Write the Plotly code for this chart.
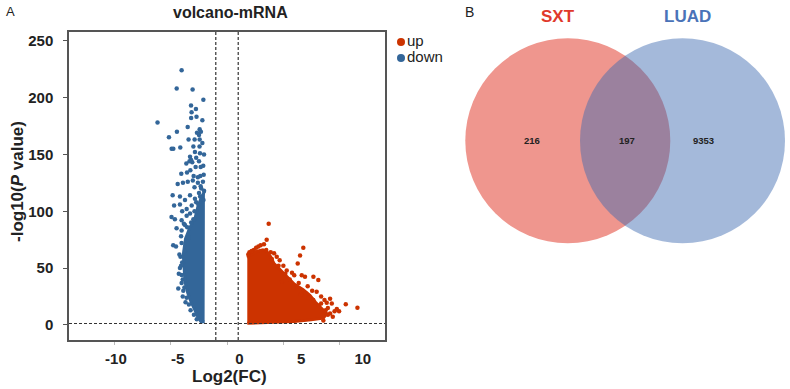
import plotly.graph_objects as go

FONT = "Liberation Sans, Arial, sans-serif"
RED = "#CC3300"
BLUE = "#336699"

# ---------------- data ----------------
x_ticks = [-10, -5, 0, 5, 10]
x_tick_labels = ["-10", "-5", "0", "5", "10"]
y_ticks = [0, 50, 100, 150, 200, 250]
y_tick_labels = ["0", "50", "100", "150", "200", "250"]

fc_threshold = 1.0        # |log2FC| cut-off lines
p_threshold = 1.3         # -log10(0.05)

legend_names = ["up", "down"]

# dense cores (outline of the solid point clouds)
down_core_x = [-1.97, -2.3, -2.6, -2.9, -3.3, -3.7, -3.9, -3.85, -3.75, -3.5, -3.2, -2.9, -2.6, -2.3, -2.0]
down_core_y = [118, 112, 104, 92, 86, 76, 62, 50, 38, 28, 20, 14, 7, 2.5, 3]

up_core_x = [1.81, 4.0, 6.0, 7.5, 8.6, 8.9, 8.5, 7.9, 7.4, 6.8, 6.0, 5.4, 4.8, 4.2, 3.9, 3.6, 3.2, 2.7, 2.2, 1.81]
up_core_y = [1.5, 2.0, 3.0, 4.5, 6.0, 10, 14, 20, 26, 31, 36, 42, 48, 54, 60, 64, 66, 65, 62, 59]

# individual (sparser) points
down_x = [-4.05, -4.49, -3.07, -2.11, -3.21, -2.77, -3.16, -2.72, -3.2, -6.2, -3.51, -4.47, -2.44, -2.68,
          -2.33, -5.18, -2.89, -3.43, -2.44, -2.5, -4.94, -4.79, -4.17, -3.0, -2.86, -2.41, -3.3, -3.2,
          -3.1, -3.35, -2.75, -2.5, -2.35, -2.8, -3.63, -4.08, -3.27, -3.57, -2.98, -2.38, -2.08, -4.4,
          -3.93, -3.5, -3.05, -2.6, -2.15, -4.85, -4.2, -3.75, -3.3, -2.86, -2.4, -2.1, -4.72, -4.2,
          -3.6, -3.15, -2.55, -4.95, -4.65, -4.05, -3.6, -3.0, -4.5, -4.05, -3.75, -4.8, -4.55, -4.05,
          -3.75, -4.35, -4.05, -4.3, -4.2, -3.95, -3.7, -2.2, -2.05, -2.3, -2.12, -2.6, -2.9, -4.0,
          -3.3, -2.2, -2.45, -2.05, -3.85, -3.45,
          -4.1, -4.15, -4.0, -4.05, -3.95, -3.9, -3.8, -3.6, -3.4, -3.25, -2.95, -2.7, -4.25, -4.1,
          -3.55, -3.2, -2.9, -2.75, -2.5, -2.35]
down_y = [224, 208, 207, 198, 193, 190, 187, 183, 182, 178, 174, 170, 172, 169,
          170, 165, 163, 163, 163, 167, 155, 155, 156, 157, 152, 151, 148, 145,
          143, 144, 147, 144, 139, 139, 142, 133, 136, 134, 131, 131, 132, 124,
          125, 126, 127, 125, 126, 114, 113, 110, 114, 111, 113, 110, 105, 106,
          102, 105, 106, 95, 93, 92, 96, 93, 85, 83, 88, 70, 69, 72,
          65, 32, 37, 45, 50, 25, 20, 160, 150, 120, 140, 130, 121, 100,
          98, 180, 157, 118, 89, 77,
          78, 60, 55, 44, 40, 30, 33, 24, 18, 13, 9, 5, 62, 52,
          86, 90, 100, 108, 116, 122]

up_x = [3.72, 3.54, 6.81, 6.52, 6.31, 7.71, 8.15, 9.2, 8.9, 10.6, 11.64, 10.0, 9.44, 6.0, 6.67,
        5.03, 5.33, 4.44, 4.2, 4.7, 5.8, 6.96, 8.0, 9.35, 7.2, 7.6, 8.4, 8.7, 9.0, 9.6,
        3.0, 2.4, 2.0, 3.9, 4.6, 5.6, 6.4, 7.0, 7.3, 8.2, 8.8, 9.2, 5.2, 4.0, 2.6, 3.3,
        1.9, 2.2, 2.8, 3.5, 4.9, 5.9, 6.6, 7.7, 8.4, 9.0, 8.6, 9.8]
up_y = [89, 75, 68, 61, 54, 42.5, 39.6, 23, 19.6, 18.2, 15.2, 12, 7.3, 43.7, 43.7,
        52, 48, 60, 63, 57, 46, 42.5, 29.3, 19, 34, 30, 25, 22, 15, 12,
        70, 66, 64, 64, 52, 40, 37, 28, 24, 17, 13, 10, 45, 58, 68, 71,
        62, 65, 69, 66, 38, 33, 27, 22, 19, 9, 4, 14]

venn_sets = ["SXT", "LUAD"]
venn_counts = [216, 197, 9353]   # SXT only, shared, LUAD only

# ---------------- figure ----------------
W, H = 790, 389
fig = go.Figure()

# dense cores
fig.add_trace(go.Scatter(x=down_core_x, y=down_core_y, fill="toself", mode="lines",
                         fillcolor=BLUE, line=dict(color=BLUE, width=3),
                         showlegend=False, hoverinfo="skip", xaxis="x", yaxis="y"))
fig.add_trace(go.Scatter(x=up_core_x, y=up_core_y, fill="toself", mode="lines",
                         fillcolor=RED, line=dict(color=RED, width=3),
                         showlegend=False, hoverinfo="skip", xaxis="x", yaxis="y"))
# points
fig.add_trace(go.Scatter(x=down_x, y=down_y, mode="markers", name="down",
                         marker=dict(color=BLUE, size=4.5), showlegend=False,
                         xaxis="x", yaxis="y"))
fig.add_trace(go.Scatter(x=up_x, y=up_y, mode="markers", name="up",
                         marker=dict(color=RED, size=4.5), showlegend=False,
                         xaxis="x", yaxis="y"))
# carrier for the tick-label axis (no visible marks)
fig.add_trace(go.Scatter(x=x_ticks, y=[None] * len(x_ticks), mode="markers",
                         showlegend=False, hoverinfo="skip", xaxis="x2", yaxis="y"))

# legend (drawn in a pixel-coordinate overlay)
fig.add_trace(go.Scatter(x=[401, 401], y=[42, 58], mode="markers+text",
                         text=legend_names, textposition="middle right",
                         textfont=dict(family=FONT, size=15, color="#222"),
                         marker=dict(color=[RED, BLUE], size=8),
                         showlegend=False, hoverinfo="skip", xaxis="x3", yaxis="y3"))

xd = [69 / W, 385 / W]
yd = [1 - 340 / H, 1 - 32 / H]

fig.update_layout(
    width=W, height=H,
    margin=dict(l=0, r=0, t=0, b=0),
    paper_bgcolor="white", plot_bgcolor="rgba(0,0,0,0)",
    font=dict(family=FONT, color="#222"),
    showlegend=False,
    xaxis=dict(domain=xd, range=[-14.1, 14.1], anchor="y",
               showline=True, mirror=True, linecolor="#555", linewidth=1.5,
               ticks="outside", ticklen=3, tickcolor="#bbb", tickvals=x_ticks,
               showticklabels=False, showgrid=False, zeroline=False),
    xaxis2=dict(overlaying="x", range=[-13.8, 11.8], anchor="y", side="bottom",
                tickvals=x_ticks, ticktext=x_tick_labels,
                ticks="outside", ticklen=5, tickcolor="rgba(0,0,0,0)",
                tickfont=dict(family=FONT, size=15, color="#222", weight="bold"),
                showline=False, showgrid=False, zeroline=False),
    yaxis=dict(domain=yd, range=[-13.2, 257.6], anchor="x",
               showline=True, mirror=True, linecolor="#555", linewidth=1.5,
               ticks="outside", ticklen=4, tickcolor="#555",
               tickvals=y_ticks, ticktext=y_tick_labels, ticklabelstandoff=7,
               tickfont=dict(family=FONT, size=15, color="#222", weight="bold"),
               showgrid=False, zeroline=False),
    xaxis3=dict(domain=[0, 1], range=[0, W], anchor="y3", visible=False, fixedrange=True),
    yaxis3=dict(domain=[0, 1], range=[H, 0], anchor="x3", visible=False, fixedrange=True),
)

# threshold lines
dash = dict(color="#333", width=1.2, dash="3px,2px")
fig.add_shape(type="line", xref="x domain", yref="y", x0=0, x1=1,
              y0=p_threshold, y1=p_threshold, line=dash)
for v in (-fc_threshold, fc_threshold):
    fig.add_shape(type="line", xref="x", yref="y domain", x0=v, x1=v, y0=0, y1=1, line=dash)

# Venn circles (pixel overlay)
r = 102.5
cy = 140.8
cL, cR = 567.8, 682.5
fig.add_shape(type="circle", xref="x3", yref="y3", x0=cL - r, x1=cL + r, y0=cy - r, y1=cy + r,
              fillcolor="rgb(239,150,142)", line=dict(width=0), layer="below")
fig.add_shape(type="circle", xref="x3", yref="y3", x0=cR - r, x1=cR + r, y0=cy - r, y1=cy + r,
              fillcolor="rgb(61,106,176)", opacity=0.47, line=dict(width=0), layer="below")

# Venn texts
for xpix, val in zip([531.7, 626.7, 703.3], venn_counts):
    fig.add_annotation(x=xpix, y=cy, xref="x3", yref="y3", text=f"<b>{val}</b>",
                       showarrow=False, font=dict(family=FONT, size=9.5, color="#222"))
fig.add_annotation(x=558.3, y=16.3, xref="x3", yref="y3", text=f"<b>{venn_sets[0]}</b>",
                   showarrow=False, font=dict(family=FONT, size=17, color="#E0392B"))
fig.add_annotation(x=687.3, y=16.3, xref="x3", yref="y3", text=f"<b>{venn_sets[1]}</b>",
                   showarrow=False, font=dict(family=FONT, size=17, color="#4A73B8"))

# titles / labels
fig.add_annotation(x=230, y=12, xref="x3", yref="y3", text="<b>volcano-mRNA</b>",
                   showarrow=False, font=dict(family=FONT, size=16, color="#222"))
fig.add_annotation(x=229, y=376, xref="x3", yref="y3", text="<b>Log2(FC)</b>",
                   showarrow=False, font=dict(family=FONT, size=17, color="#222"))
fig.add_annotation(x=17, y=182, xref="x3", yref="y3", text="<b>-log10(<i>P</i> value)</b>",
                   textangle=-90, showarrow=False, font=dict(family=FONT, size=17, color="#222"))
fig.add_annotation(x=10, y=11, xref="x3", yref="y3", text="A",
                   showarrow=False, font=dict(family=FONT, size=13, color="#222"))
fig.add_annotation(x=469, y=12, xref="x3", yref="y3", text="B",
                   showarrow=False, font=dict(family=FONT, size=14, color="#222"))

fig.write_html("out.html", config={"displayModeBar": False},
               post_script="document.body.style.margin='0';document.body.style.overflow='hidden';")
